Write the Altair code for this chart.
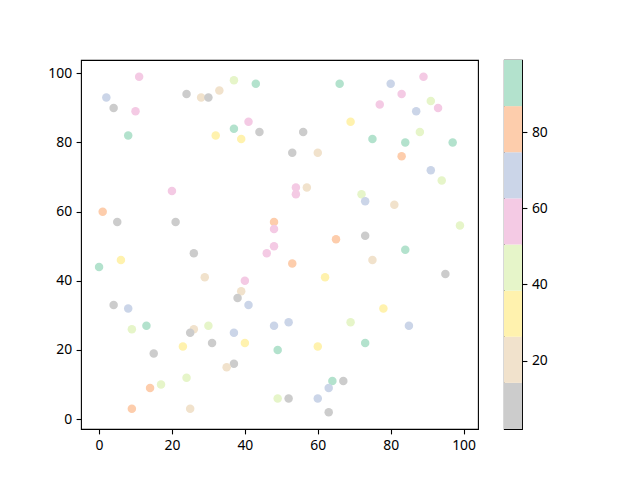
import altair as alt
import numpy as np
import pandas as pd

# Point data
xs = [11, 2, 4, 10, 8, 24, 28, 30, 33, 37, 43, 41, 37, 32, 39, 44, 20, 1, 5, 21,
      48, 48, 48, 66, 80, 89, 83, 77, 91, 93, 87, 69, 56, 75, 84, 88, 97, 53, 60, 83,
      91, 94, 54, 57, 54, 72, 73, 81, 99, 65, 73, 0, 6, 26, 46, 29, 40, 39, 38, 41,
      4, 8, 9, 13, 26, 25, 30, 37, 48, 23, 31, 40, 49, 15, 37, 35, 24, 14, 17, 9,
      25, 49, 84, 53, 75, 95, 62, 78, 52, 69, 85, 60, 73, 64, 67, 63, 52, 60, 63]
ys = [99, 93, 90, 89, 82, 94, 93, 93, 95, 98, 97, 86, 84, 82, 81, 83, 66, 60, 57, 57,
      57, 55, 50, 97, 97, 99, 94, 91, 92, 90, 89, 86, 83, 81, 80, 83, 80, 77, 77, 76,
      72, 69, 67, 67, 65, 65, 63, 62, 56, 52, 53, 44, 46, 48, 48, 41, 40, 37, 35, 33,
      33, 32, 26, 27, 26, 25, 27, 25, 27, 21, 22, 22, 20, 19, 16, 15, 12, 9, 10, 3,
      3, 6, 49, 45, 46, 42, 41, 32, 28, 28, 27, 21, 22, 11, 11, 9, 6, 6, 2]
cs = [56, 68, 8, 56, 93, 8, 20, 8, 20, 44, 93, 56, 93, 32, 32, 8, 56, 80, 8, 8,
      80, 56, 56, 93, 68, 56, 56, 56, 44, 56, 68, 32, 8, 93, 93, 44, 99, 8, 20, 80,
      68, 44, 56, 20, 56, 44, 68, 20, 44, 80, 8, 93, 32, 8, 56, 20, 56, 20, 8, 68,
      2, 68, 44, 93, 20, 8, 44, 68, 68, 32, 8, 32, 93, 8, 8, 20, 44, 80, 44, 80,
      20, 44, 93, 80, 20, 8, 32, 32, 68, 44, 68, 32, 93, 93, 8, 68, 8, 68, 8]

# Pastel2 reversed colormap (8 classes)
colors = ["#cccccc", "#f1e2cc", "#fff2ae", "#e6f5c9",
          "#f4cae4", "#cbd5e8", "#fdcdac", "#b3e2cd"]
cbar_ticks = [20, 40, 60, 80]
axis_ticks = [0, 20, 40, 60, 80, 100]

df = pd.DataFrame({"x": xs, "y": ys, "c": cs})
cmin, cmax = min(cs), max(cs)
edges = np.linspace(cmin, cmax, len(colors) + 1)
cbar = pd.DataFrame({"lo": edges[:-1], "hi": edges[1:],
                     "k": [str(i) for i in range(len(colors))],
                     "a": 0, "b": 1})

FONT = "Noto Sans"
axis_common = dict(grid=False, domain=False, tickColor="black", tickWidth=1.1,
                   tickSize=4.9, labelFontSize=13.9, labelColor="black",
                   labelFont=FONT, labelPadding=4.5, title=None)

xr = (99 - 0) * 0.05
yr = (99 - 2) * 0.05

main = alt.Chart(df).mark_circle(size=72, opacity=1).encode(
    x=alt.X("x:Q", scale=alt.Scale(domain=[0 - xr, 99 + xr], nice=False, zero=False),
            axis=alt.Axis(values=axis_ticks, **axis_common)),
    y=alt.Y("y:Q", scale=alt.Scale(domain=[2 - yr, 99 + yr], nice=False, zero=False),
            axis=alt.Axis(values=axis_ticks, minExtent=40, maxExtent=40, **axis_common)),
    color=alt.Color("c:Q", scale=alt.Scale(type="quantize", domain=[cmin, cmax],
                                           range=colors), legend=None),
).properties(width=397, height=369)

bar = alt.Chart(cbar).mark_rect().encode(
    x=alt.X("a:Q", scale=alt.Scale(domain=[0, 1], nice=False), axis=None),
    x2="b:Q",
    y=alt.Y("lo:Q", scale=alt.Scale(domain=[cmin, cmax], nice=False, zero=False),
            axis=alt.Axis(orient="right", values=cbar_ticks, **axis_common)),
    y2="hi:Q",
    color=alt.Color("k:N", scale=alt.Scale(domain=list(cbar["k"]), range=colors),
                    legend=None),
).properties(width=18, height=369)

chart = alt.hconcat(main, bar, spacing=24).properties(
    padding={"left": 32, "top": 51, "right": 5, "bottom": 5},
    background="white",
).configure_view(stroke="black", strokeWidth=1.1)

chart.save("out.html", embed_options={"renderer": "svg", "actions": False})
